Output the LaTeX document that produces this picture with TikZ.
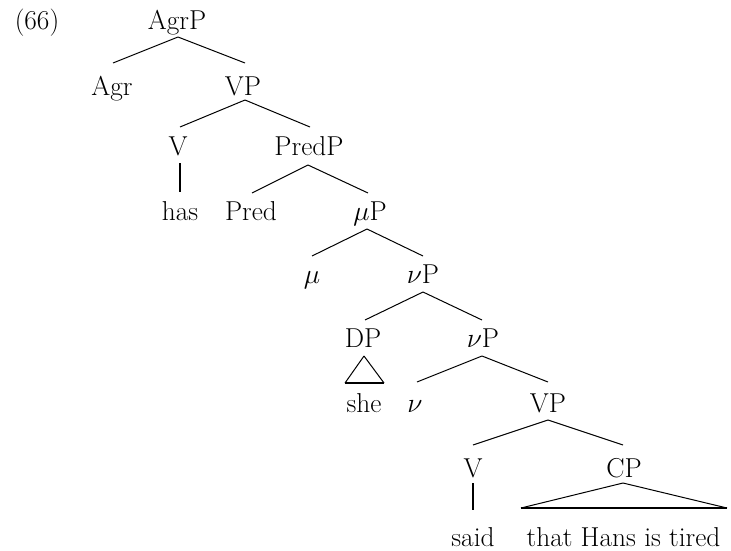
\documentclass[tikz,border=0pt]{standalone}
\usetikzlibrary{calc}
\begin{document}
\begin{tikzpicture}[x=0.75pt,y=-0.75pt,
  tn/.style={anchor=base,inner sep=0pt,font=\fontsize{20.5}{24}\selectfont},
  edge/.style={line width=0.75pt},
  thick edge/.style={line width=1.6pt}]
\useasboundingbox (0,0) rectangle (731,550);
% nodes
\node[tn] (ex)   at (37,29)  {(66)};
\node[tn] (AgrP) at (177,29) {AgrP};
\node[tn] (Agr)  at (112,95) {Agr};
\node[tn] (VP1)  at (243,95) {VP};
\node[tn] (V1)   at (178,155) {V};
\node[tn] (PredP) at (309,155) {PredP};
\node[tn] (has)  at (180,220) {has};
\node[tn] (Pred) at (251,220) {Pred};
\node[tn] (muP)  at (370,220) {$\mu$P};
\node[tn] (mu)   at (312,283) {$\mu$};
\node[tn] (nuP1) at (423,283) {$\nu$P};
\node[tn] (DP)   at (363,347) {DP};
\node[tn] (nuP2) at (483,347) {$\nu$P};
\node[tn] (she)  at (364,412) {she};
\node[tn] (nu)   at (415,412) {$\nu$};
\node[tn] (VP2)  at (548,412) {VP};
\node[tn] (V2)   at (473,477) {V};
\node[tn] (CP)   at (624,477) {CP};
\node[tn] (said) at (473,546) {said};
\node[tn] (that) at (623.5,546) {that Hans is tired};
% connectors
\draw[edge] ($(AgrP.base)+(1,8)$) -- ($(Agr.base)+(1,-32)$);
\draw[edge] ($(AgrP.base)+(1,8)$) -- ($(VP1.base)+(2,-32)$);
\draw[edge] ($(VP1.base)+(2,5)$) -- ($(V1.base)+(2,-28)$);
\draw[edge] ($(VP1.base)+(2,5)$) -- ($(PredP.base)+(1,-28)$);
\draw[thick edge] ($(V1.base)+(2,8)$) -- ($(has.base)+(0,-28)$);
\draw[edge] ($(PredP.base)+(-1,10)$) -- ($(Pred.base)+(1,-27)$);
\draw[edge] ($(PredP.base)+(-1,10)$) -- ($(muP.base)+(-2,-27)$);
\draw[edge] ($(muP.base)+(-3,9)$) -- ($(mu.base)+(0,-27)$);
\draw[edge] ($(muP.base)+(-3,9)$) -- ($(nuP1.base)+(0,-27)$);
\draw[edge] ($(nuP1.base)+(0,9)$) -- ($(DP.base)+(2,-27)$);
\draw[edge] ($(nuP1.base)+(0,9)$) -- ($(nuP2.base)+(-1,-27)$);
\draw[edge] ($(DP.base)+(1,9)$) -- ($(she.base)+(-19,-29)$);
\draw[edge] ($(DP.base)+(1,9)$) -- ($(she.base)+(20,-29)$);
\draw[thick edge] ($(she.base)+(-19,-29)$) -- ($(she.base)+(20,-29)$);
\draw[edge] ($(nuP2.base)+(-1,9)$) -- ($(nu.base)+(2,-30)$);
\draw[edge] ($(nuP2.base)+(-1,9)$) -- ($(VP2.base)+(0,-30)$);
\draw[edge] ($(VP2.base)+(0,8)$) -- ($(V2.base)+(0,-32)$);
\draw[edge] ($(VP2.base)+(0,8)$) -- ($(CP.base)+(-1,-32)$);
\draw[thick edge] ($(V2.base)+(0,6)$) -- ($(said.base)+(0,-36)$);
\draw[edge] ($(CP.base)+(-1,6)$) -- ($(that.base)+(-102.5,-38)$);
\draw[edge] ($(CP.base)+(-1,6)$) -- ($(that.base)+(103.5,-38)$);
\draw[thick edge] ($(that.base)+(-102.5,-38)$) -- ($(that.base)+(103.5,-38)$);
\end{tikzpicture}
\end{document}
